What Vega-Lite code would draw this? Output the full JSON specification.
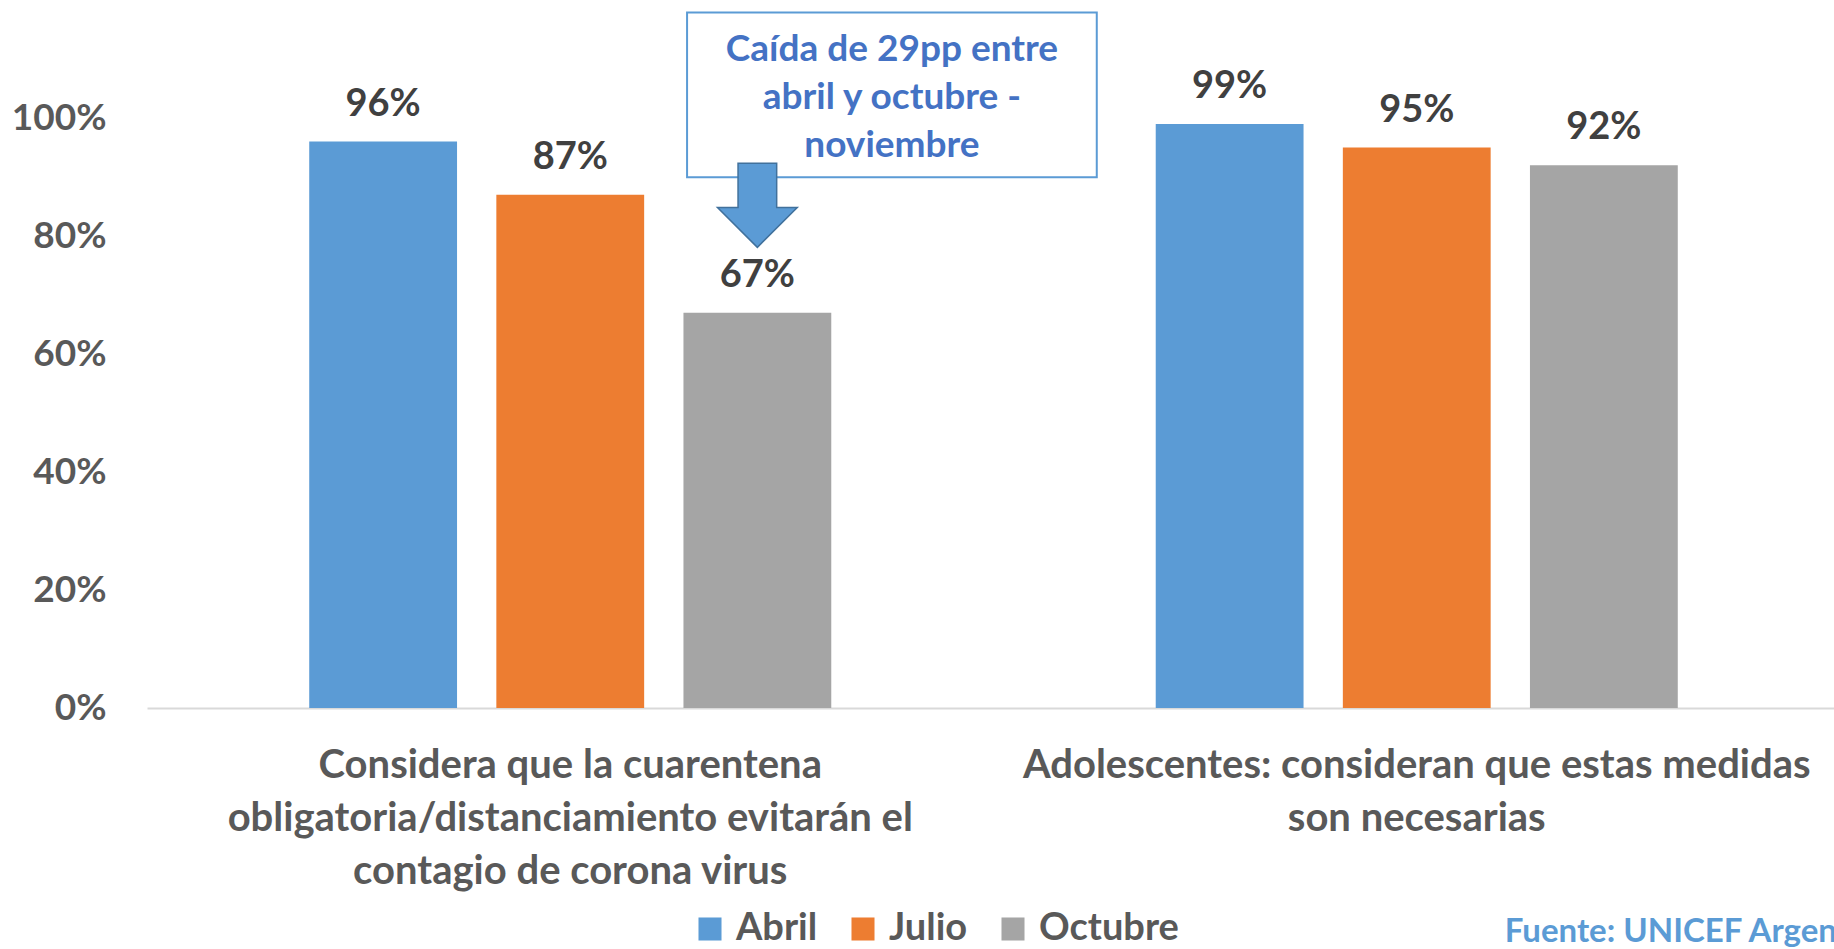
{
  "$schema": "https://vega.github.io/schema/vega-lite/v6.json",
  "width": 1687,
  "height": 590,
  "autosize": {"type": "none"},
  "padding": {"left": 147, "top": 118, "right": 0, "bottom": 241},
  "background": "white",
  "config": {
    "view": {"stroke": null},
    "font": "Lato",
    "axis": {"labelFont": "Lato", "titleFont": "Lato"},
    "legend": {"labelFont": "Lato"},
    "text": {"font": "Lato"}
  },
  "datasets": {
    "bars": [
      {"cat": "Considera que la cuarentena obligatoria/distanciamiento evitarán el contagio de corona virus", "serie": "Abril", "v": 0.96},
      {"cat": "Considera que la cuarentena obligatoria/distanciamiento evitarán el contagio de corona virus", "serie": "Julio", "v": 0.87},
      {"cat": "Considera que la cuarentena obligatoria/distanciamiento evitarán el contagio de corona virus", "serie": "Octubre", "v": 0.67},
      {"cat": "Adolescentes: consideran que estas medidas son necesarias", "serie": "Abril", "v": 0.99},
      {"cat": "Adolescentes: consideran que estas medidas son necesarias", "serie": "Julio", "v": 0.95},
      {"cat": "Adolescentes: consideran que estas medidas son necesarias", "serie": "Octubre", "v": 0.92}
    ],
    "arrow": [
      {"cat": "Considera que la cuarentena obligatoria/distanciamiento evitarán el contagio de corona virus", "serie": "Octubre", "y": 0.852}
    ],
    "box": [{"x1": 0.638, "x2": 1.122, "y1": 0.8995, "y2": 1.179}],
    "callout": [{"x": 0.88, "y": 1.115}],
    "source": [{"x": 1.604, "y": -0.397}]
  },
  "resolve": {"scale": {"x": "independent"}},
  "layer": [
    {
      "data": {"name": "bars"},
      "mark": {"type": "bar"},
      "encoding": {
        "x": {
          "field": "cat", "type": "nominal", "sort": null,
          "scale": {"range": [0, 1693], "paddingInner": 0, "paddingOuter": 0},
          "axis": {
            "title": null, "ticks": false, "domainColor": "#D9D9D9", "domainWidth": 2,
            "labelAngle": 0, "labelFontSize": 40, "labelFontWeight": "bold", "labelColor": "#595959",
            "labelLimit": 1000, "labelLineHeight": 53, "labelPadding": 37,
            "labelExpr": "datum.value == 'Adolescentes: consideran que estas medidas son necesarias' ? ['Adolescentes: consideran que estas medidas', 'son necesarias'] : ['Considera que la cuarentena', 'obligatoria/distanciamiento evitarán el', 'contagio de corona virus']"
          }
        },
        "xOffset": {
          "field": "serie", "type": "nominal",
          "scale": {"domain": ["Abril", "Julio", "Octubre"], "paddingInner": 0.21, "paddingOuter": 0.867}
        },
        "y": {
          "field": "v", "type": "quantitative",
          "scale": {"domain": [0, 1], "nice": false},
          "axis": {
            "title": null, "values": [0, 0.2, 0.4, 0.6, 0.8, 1], "format": ".0%",
            "domain": false, "ticks": false, "grid": false,
            "labelFontSize": 37, "labelFontWeight": "bold", "labelColor": "#595959", "labelPadding": 41
          }
        },
        "color": {
          "field": "serie", "type": "nominal",
          "scale": {"domain": ["Abril", "Julio", "Octubre"], "range": ["#5B9BD5", "#ED7D31", "#A5A5A5"]},
          "legend": {
            "title": null, "orient": "none", "direction": "horizontal",
            "legendX": 544, "legendY": 792,
            "symbolType": "square", "symbolSize": 530, "symbolStrokeWidth": 0, "symbolOpacity": 1,
            "labelFontSize": 38, "labelFontWeight": "bold", "labelColor": "#595959",
            "labelOffset": 7, "columnPadding": 26, "padding": 0
          }
        }
      }
    },
    {
      "data": {"name": "bars"},
      "mark": {"type": "text", "baseline": "alphabetic", "dy": -26, "fontSize": 38, "fontWeight": "bold", "color": "#404040"},
      "encoding": {
        "x": {"field": "cat", "type": "nominal", "sort": null, "scale": {"range": [0, 1693], "paddingInner": 0, "paddingOuter": 0}, "axis": null},
        "xOffset": {"field": "serie", "type": "nominal", "scale": {"domain": ["Abril", "Julio", "Octubre"], "paddingInner": 0.21, "paddingOuter": 0.867}},
        "y": {"field": "v", "type": "quantitative", "scale": {"domain": [0, 1], "nice": false}},
        "text": {"field": "v", "type": "quantitative", "format": ".0%"}
      }
    },
    {
      "data": {"name": "box"},
      "mark": {"type": "rect", "fill": "white", "stroke": "#5B9BD5", "strokeWidth": 2},
      "encoding": {
        "x": {"field": "x1", "type": "quantitative", "scale": {"domain": [0, 2], "range": [0, 1693], "nice": false, "zero": false}, "axis": null},
        "x2": {"field": "x2"},
        "y": {"field": "y1", "type": "quantitative", "scale": {"domain": [0, 1], "nice": false}},
        "y2": {"field": "y2"}
      }
    },
    {
      "data": {"name": "callout"},
      "mark": {
        "type": "text", "text": ["Caída de 29pp entre", "abril y octubre -", "noviembre"],
        "align": "center", "baseline": "middle", "lineHeight": 48,
        "fontSize": 37, "fontWeight": "bold", "color": "#4472C4"
      },
      "encoding": {
        "x": {"field": "x", "type": "quantitative", "scale": {"domain": [0, 2], "range": [0, 1693], "nice": false, "zero": false}, "axis": null},
        "y": {"field": "y", "type": "quantitative", "scale": {"domain": [0, 1], "nice": false}}
      }
    },
    {
      "data": {"name": "arrow"},
      "mark": {
        "type": "point", "filled": true, "opacity": 1,
        "shape": "M-0.46,-1L0.46,-1L0.46,0.05L0.95,0.05L0,1L-0.95,0.05L-0.46,0.05Z",
        "size": 7056, "fill": "#5B9BD5", "stroke": "#41719C", "strokeWidth": 1.5, "strokeOpacity": 1
      },
      "encoding": {
        "x": {"field": "cat", "type": "nominal", "sort": null, "scale": {"domain": ["Considera que la cuarentena obligatoria/distanciamiento evitarán el contagio de corona virus", "Adolescentes: consideran que estas medidas son necesarias"], "range": [0, 1693], "paddingInner": 0, "paddingOuter": 0}, "axis": null},
        "xOffset": {"field": "serie", "type": "nominal", "scale": {"domain": ["Abril", "Julio", "Octubre"], "paddingInner": 0.21, "paddingOuter": 0.867}},
        "y": {"field": "y", "type": "quantitative", "scale": {"domain": [0, 1], "nice": false}}
      }
    },
    {
      "data": {"name": "source"},
      "mark": {
        "type": "text", "text": "Fuente: UNICEF Argentina",
        "align": "left", "baseline": "alphabetic",
        "fontSize": 33, "fontWeight": "bold", "color": "#5B9BD5"
      },
      "encoding": {
        "x": {"field": "x", "type": "quantitative", "scale": {"domain": [0, 2], "range": [0, 1693], "nice": false, "zero": false}, "axis": null},
        "y": {"field": "y", "type": "quantitative", "scale": {"domain": [0, 1], "nice": false}}
      }
    }
  ]
}
